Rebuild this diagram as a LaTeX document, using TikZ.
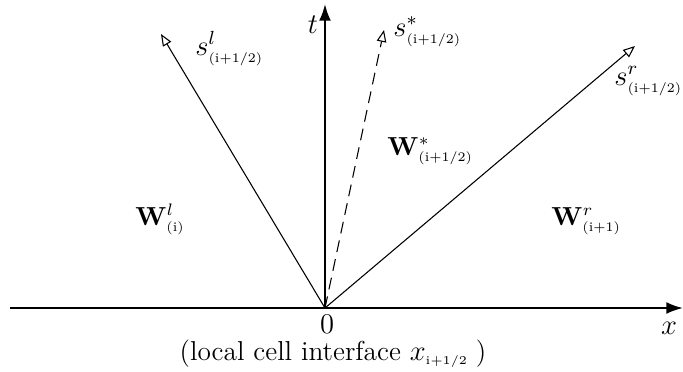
\documentclass[tikz,border=0pt]{standalone}
\usetikzlibrary{arrows.meta}
\newcommand{\tinysub}[1]{\hbox{\fontsize{5.5}{6.5}\selectfont #1}}
\newcommand{\xsub}[1]{\hbox{\fontsize{5}{6}\selectfont #1}}
\begin{document}
\begin{tikzpicture}[x=0.42pt,y=-0.42pt,
  axis/.style={line width=0.9pt,-{Latex[length=7pt,width=5pt]}},
  ray/.style={line width=0.45pt,-{Triangle[open,length=5pt,width=4pt]}},
  lbl/.style={inner sep=0pt,font=\large},
  wlbl/.style={inner sep=0pt,font=\fontsize{10.5}{12}\selectfont}]
\useasboundingbox (0,0) rectangle (683,371);
\coordinate (O) at (325,308);
\coordinate (xl) at (10,308);
\coordinate (xr) at (683,308);
\coordinate (tt) at (325,4);
\coordinate (sl) at (161,34);
\coordinate (ss) at (384,30);
\coordinate (sr) at (635,46);
\draw[axis] (xl) -- (xr);
\draw[axis] (O) -- (tt);
\draw[ray] (O) -- (sl);
\draw[ray,dashed,dash pattern=on 5pt off 3pt] (O) -- (ss);
\draw[ray] (O) -- (sr);
\node[lbl,anchor=base] (tlab) at (313,33) {$t$};
\node[lbl,anchor=base] (xlab) at (669,334) {$x$};
\node[lbl,anchor=base] (zero) at (327,333) {$0$};
\node[inner sep=0pt,font=\fontsize{11.5}{13}\selectfont,anchor=base] (cap) at (333,360) {(local cell interface $x_{\xsub{i+1/2}}$\;)};
\node[lbl,anchor=base west] (lsl) at (195,55) {$s^{l}_{\tinysub{(i+1/2)}}$};
\node[lbl,anchor=base west] (lss) at (393,36) {$s^{*}_{\tinysub{(i+1/2)}}$};
\node[lbl,anchor=base west] (lsr) at (614,85) {$s^{r}_{\tinysub{(i+1/2)}}$};
\node[wlbl,anchor=base west] (wst) at (387,155) {$\mathbf{W}^{*}_{\tinysub{(i+1/2)}}$};
\node[wlbl,anchor=base west] (wl) at (135,225) {$\mathbf{W}^{l}_{\tinysub{(i)}}$};
\node[wlbl,anchor=base west] (wr) at (551,225) {$\mathbf{W}^{r}_{\tinysub{(i+1)}}$};
\end{tikzpicture}
\end{document}
